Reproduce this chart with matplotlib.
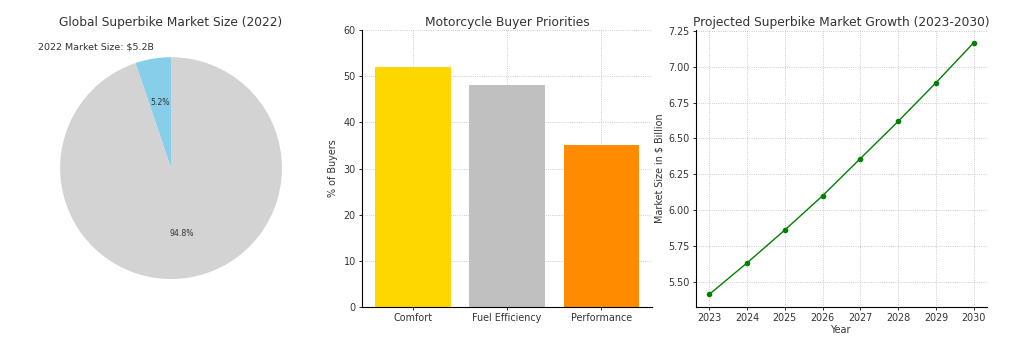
import matplotlib
matplotlib.use("Agg")
import matplotlib.pyplot as plt

# pie data
pie_labels = ["Superbike", "Other"]
pie_shares = [5.2, 94.8]
pie_colors = ["skyblue", "lightgrey"]

# bar data
priorities = ["Comfort", "Fuel Efficiency", "Performance"]
buyer_pct = [52, 48, 35]
bar_colors = ["gold", "silver", "darkorange"]

# projected growth
years = [2023, 2024, 2025, 2026, 2027, 2028, 2029, 2030]
market_size = [5.41, 5.63, 5.86, 6.10, 6.36, 6.62, 6.89, 7.17]

fig = plt.figure(figsize=(10.09, 3.51), dpi=100)

title_fs = 8.8
tick_fs = 6.9
text_col = "#333333"

# pie chart
ax1 = fig.add_axes([0.032, 0.126, 0.275, 0.79])
ax1.pie(pie_shares, colors=pie_colors, autopct="%1.1f%%", startangle=90,
        textprops={"fontsize": 5.6, "color": text_col})
ax1.set_title("Global Superbike Market Size (2022)", fontsize=title_fs, color=text_col, pad=2)
ax1.text(-1.2, 1.09, "2022 Market Size: $5.2B", fontsize=6.8, color=text_col,
         ha="left", va="center")

# bar chart
ax2 = fig.add_axes([0.3588, 0.1254, 0.2874, 0.789])
ax2.bar(priorities, buyer_pct, color=bar_colors, width=0.8, zorder=2)
ax2.set_ylim(0, 60)
ax2.set_title("Motorcycle Buyer Priorities", fontsize=title_fs, color=text_col, pad=3)
ax2.set_ylabel("% of Buyers", fontsize=tick_fs, color=text_col)
ax2.grid(True, linestyle=":", color="#bbbbbb", linewidth=0.6, zorder=0)
ax2.set_axisbelow(True)

# line chart
ax3 = fig.add_axes([0.6898, 0.1254, 0.2884, 0.789])
ax3.plot(years, market_size, color="green", marker="o", markersize=3, linewidth=1)
ax3.set_title("Projected Superbike Market Growth (2023-2030)", fontsize=title_fs, color=text_col, pad=3)
ax3.set_xlabel("Year", fontsize=tick_fs, color=text_col, labelpad=1)
ax3.set_ylabel("Market Size in $ Billion", fontsize=tick_fs, color=text_col, labelpad=3)
ax3.set_xticks(years)
ax3.yaxis.set_major_formatter(matplotlib.ticker.FormatStrFormatter("%.2f"))
ax3.grid(True, linestyle=":", color="#bbbbbb", linewidth=0.6)

for ax in (ax2, ax3):
    ax.spines["top"].set_visible(False)
    ax.spines["right"].set_visible(False)
    ax.tick_params(labelsize=tick_fs, length=2.5, width=0.6, pad=2, labelcolor=text_col)

fig.savefig("out.png", dpi=100)
